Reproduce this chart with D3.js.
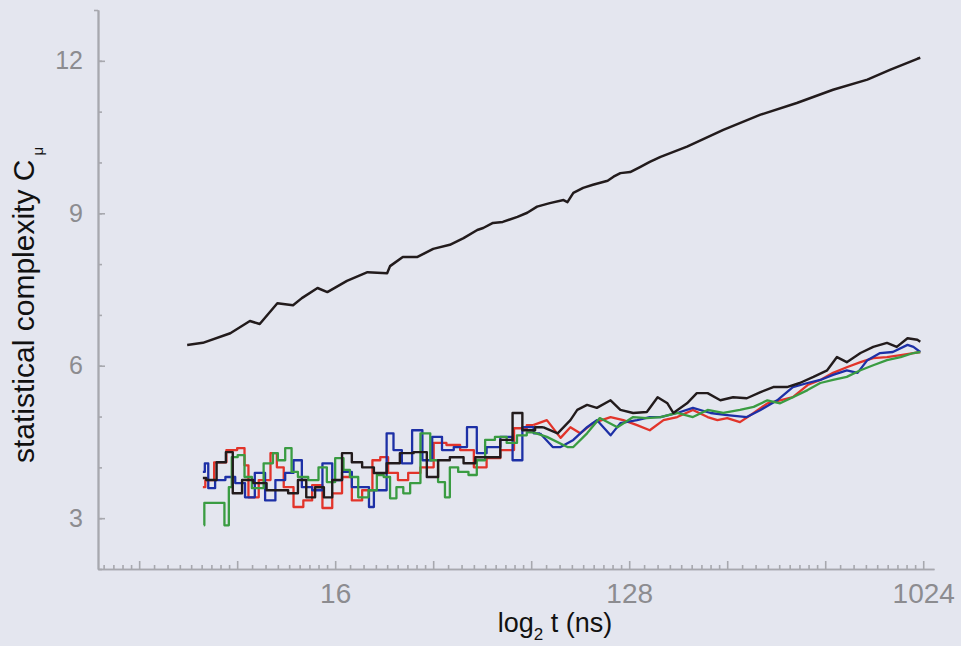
<!DOCTYPE html>
<html>
<head>
<meta charset="utf-8">
<script src="https://cdn.jsdelivr.net/npm/d3@7/dist/d3.min.js"></script>
<style>
body { margin: 0; background: #e4e6ef; }
svg { display: block; font-family: "Liberation Sans", Arial, sans-serif; }
</style>
</head>
<body>
<svg width="961" height="646"></svg>
<script>
// x values are log2 of t (ns), y values are C_mu

var topT = [2.49, 2.65, 2.93, 3.13, 3.23, 3.41, 3.57, 3.66, 3.82, 3.92, 4.12, 4.33, 4.53, 4.56, 4.69, 4.84, 5.00, 5.17, 5.31, 5.45, 5.51, 5.61, 5.71, 5.86, 5.96, 6.06, 6.19, 6.33, 6.37, 6.43, 6.53, 6.63, 6.78, 6.84, 6.91, 7.01, 7.11, 7.21, 7.32, 7.59, 7.96, 8.34, 8.71, 9.08, 9.43, 9.66, 9.94, 9.97];
var topC = [6.41, 6.45, 6.64, 6.88, 6.82, 7.23, 7.19, 7.33, 7.53, 7.45, 7.67, 7.84, 7.82, 7.96, 8.14, 8.14, 8.30, 8.38, 8.51, 8.67, 8.71, 8.81, 8.83, 8.93, 9.01, 9.13, 9.20, 9.26, 9.22, 9.40, 9.50, 9.56, 9.64, 9.72, 9.79, 9.81, 9.91, 10.01, 10.11, 10.31, 10.64, 10.94, 11.17, 11.43, 11.63, 11.82, 12.04, 12.06];

var redT = [2.65, 2.70, 2.83, 2.95, 3.05, 3.10, 3.13, 3.31, 3.37, 3.44, 3.51, 3.64, 3.71, 3.82, 3.92, 4.02, 4.12, 4.22, 4.33, 4.43, 4.49, 4.59, 4.69, 4.80, 4.94, 5.07, 5.20, 5.35, 5.48, 5.61, 5.76, 5.89, 6.02, 6.16, 6.30, 6.40, 6.50, 6.63, 6.81, 6.94, 7.08, 7.21, 7.35, 7.49, 7.65, 7.80, 7.90, 8.00, 8.13, 8.27, 8.41, 8.54, 8.67, 8.82, 8.95, 9.08, 9.22, 9.36, 9.49, 9.63, 9.77, 9.90, 9.97];
var redC = [3.61, 3.75, 4.10, 4.34, 4.38, 4.04, 3.41, 3.75, 4.28, 4.00, 3.61, 3.22, 3.35, 3.65, 3.20, 3.49, 3.81, 3.35, 3.55, 4.14, 4.20, 3.89, 3.75, 3.89, 4.00, 4.48, 4.44, 4.34, 4.00, 4.18, 4.34, 4.77, 4.83, 4.93, 4.58, 4.79, 4.67, 4.87, 4.99, 4.93, 4.83, 4.73, 4.93, 4.99, 5.13, 4.99, 4.93, 4.97, 4.89, 5.07, 5.26, 5.32, 5.38, 5.62, 5.72, 5.86, 5.97, 6.07, 6.15, 6.17, 6.21, 6.25, 6.27];

var blueT = [2.65, 2.69, 2.72, 2.83, 2.93, 3.03, 3.13, 3.23, 3.34, 3.44, 3.54, 3.61, 3.71, 3.82, 3.92, 4.02, 4.12, 4.22, 4.33, 4.36, 4.43, 4.49, 4.56, 4.63, 4.73, 4.84, 4.94, 5.04, 5.14, 5.28, 5.41, 5.48, 5.61, 5.76, 5.86, 5.96, 6.09, 6.22, 6.30, 6.43, 6.57, 6.67, 6.81, 6.91, 7.08, 7.21, 7.32, 7.49, 7.65, 7.83, 8.00, 8.20, 8.34, 8.51, 8.67, 8.82, 8.95, 9.08, 9.22, 9.33, 9.43, 9.56, 9.69, 9.84, 9.90, 9.97];
var blueC = [3.91, 4.08, 3.59, 3.75, 3.81, 3.69, 3.41, 3.89, 3.35, 3.75, 3.89, 4.14, 3.61, 3.55, 4.08, 3.75, 3.91, 3.61, 3.61, 3.22, 3.55, 3.55, 4.67, 4.34, 4.08, 4.73, 4.14, 4.60, 4.34, 4.40, 4.79, 4.28, 4.40, 4.60, 4.14, 4.79, 4.67, 4.40, 4.40, 4.54, 4.79, 4.93, 4.63, 4.87, 4.93, 4.99, 4.99, 5.07, 5.17, 5.07, 5.03, 4.99, 5.13, 5.32, 5.58, 5.66, 5.72, 5.82, 5.91, 5.86, 6.11, 6.25, 6.27, 6.41, 6.37, 6.27];

var greenT = [2.66, 2.67, 2.86, 2.88, 2.90, 2.93, 2.96, 3.05, 3.10, 3.20, 3.34, 3.39, 3.44, 3.54, 3.57, 3.67, 3.78, 3.88, 3.95, 4.05, 4.12, 4.18, 4.29, 4.39, 4.46, 4.53, 4.59, 4.66, 4.73, 4.80, 4.94, 5.00, 5.10, 5.14, 5.20, 5.31, 5.41, 5.48, 5.58, 5.68, 5.82, 5.89, 6.02, 6.16, 6.37, 6.43, 6.57, 6.70, 6.88, 7.04, 7.18, 7.32, 7.49, 7.65, 7.80, 7.96, 8.13, 8.27, 8.41, 8.54, 8.67, 8.82, 8.95, 9.08, 9.22, 9.36, 9.49, 9.63, 9.77, 9.90, 9.97];
var greenC = [2.86, 3.30, 3.30, 2.86, 2.86, 3.61, 4.20, 4.24, 3.81, 3.59, 4.08, 4.28, 4.14, 4.38, 3.91, 3.81, 3.75, 4.00, 3.71, 4.18, 3.95, 3.81, 3.41, 3.55, 3.85, 3.81, 3.39, 3.61, 3.49, 3.69, 4.67, 4.14, 3.71, 3.41, 4.00, 3.91, 3.85, 4.14, 4.54, 4.60, 4.48, 4.63, 4.69, 4.60, 4.40, 4.40, 4.67, 4.97, 4.79, 4.99, 4.97, 4.99, 5.07, 4.99, 5.13, 5.07, 5.13, 5.19, 5.32, 5.26, 5.38, 5.52, 5.66, 5.72, 5.78, 5.91, 6.01, 6.11, 6.17, 6.25, 6.27];

var blackT = [2.65, 2.72, 2.86, 2.91, 3.00, 3.10, 3.23, 3.37, 3.47, 3.57, 3.67, 3.74, 3.85, 3.92, 4.02, 4.12, 4.22, 4.33, 4.46, 4.59, 4.73, 4.87, 5.00, 5.10, 5.24, 5.38, 5.48, 5.61, 5.76, 5.86, 5.96, 6.12, 6.27, 6.40, 6.47, 6.57, 6.67, 6.81, 6.91, 7.04, 7.18, 7.29, 7.39, 7.45, 7.59, 7.69, 7.80, 7.93, 8.06, 8.20, 8.34, 8.47, 8.61, 8.74, 8.88, 9.02, 9.12, 9.22, 9.36, 9.49, 9.63, 9.73, 9.84, 9.94, 9.97];
var blackC = [3.79, 3.75, 4.10, 4.30, 3.49, 3.75, 3.69, 3.55, 3.55, 3.49, 3.75, 3.41, 3.61, 3.41, 3.75, 4.28, 4.10, 4.00, 3.89, 4.08, 4.28, 4.30, 3.81, 4.14, 4.20, 4.08, 4.20, 4.20, 4.54, 5.07, 4.73, 4.79, 4.67, 4.93, 5.13, 5.23, 5.17, 5.32, 5.13, 5.07, 5.09, 5.38, 5.26, 5.07, 5.26, 5.46, 5.46, 5.32, 5.38, 5.36, 5.48, 5.58, 5.58, 5.66, 5.78, 5.91, 6.17, 6.07, 6.25, 6.37, 6.45, 6.37, 6.54, 6.51, 6.47];

var xTickLabels = [16, 128, 1024];
var yTickLabels = [3, 6, 9, 12];

var svg = d3.select("svg");
var axisGray = "#a7a8ae", labelGray = "#8c8c90";

xScale = d3.scaleLinear().domain([1.58, 10.11]).range([98, 934]);
yScale = d3.scaleLinear().domain([2, 13]).range([569, 10]);

// minor x ticks: 8 linear steps inside each octave
var xMinor = [];
for (var k = 1; k <= 10; k++) {
    for (var i = 1; i <= 8; i++) {
        var v = k + Math.log2(1 + i / 9);
        if (v > 1.58 && v < 10.11) xMinor.push(v);
    }
}
var xMajor = d3.range(2, 11);
var xLabelled = xTickLabels.map(function (d) { return Math.log2(d) });

function styleAxis(g) {
    g.selectAll("path, line").attr("stroke", axisGray).attr("stroke-width", 1.6);
    g.selectAll("text").attr("fill", labelGray);
}

svg.append("g").attr("transform", "translate(0,569)")
    .call(d3.axisBottom(xScale).tickValues(xMinor).tickSize(-4).tickSizeOuter(0).tickFormat(""))
    .call(styleAxis);
svg.append("g").attr("transform", "translate(0,569)")
    .call(d3.axisBottom(xScale).tickValues(xMajor).tickSize(-8).tickSizeOuter(0).tickPadding(14)
        .tickFormat(function (d) { return xLabelled.indexOf(d) >= 0 ? Math.pow(2, d) : "" }))
    .call(styleAxis)
    .selectAll("text").attr("font-size", 28).attr("font-family", "Liberation Sans, Arial, sans-serif");

svg.append("g").attr("transform", "translate(98,0)")
    .call(d3.axisLeft(yScale).tickValues(d3.range(2, 13)).tickSize(-4).tickSizeOuter(0).tickFormat(""))
    .call(styleAxis);
svg.append("g").attr("transform", "translate(98,0)")
    .call(d3.axisLeft(yScale).tickValues([13]).tickSize(4).tickSizeOuter(0).tickFormat(""))
    .call(styleAxis);
svg.append("g").attr("transform", "translate(98,0)")
    .call(d3.axisLeft(yScale).tickValues(yTickLabels).tickSize(-7).tickSizeOuter(0).tickPadding(15))
    .call(styleAxis)
    .selectAll("text").attr("font-size", 25).attr("font-family", "Liberation Sans, Arial, sans-serif");

// curves: the early, coarse part of the noisy runs is stepped, the rest is a plain line
var stepEnd = 6.0;
var series = [
    { t: redT, c: redC, color: "#e2342a", w: 2.3, noisy: true },
    { t: blueT, c: blueC, color: "#1d30a6", w: 2.3, noisy: true },
    { t: greenT, c: greenC, color: "#3a9c42", w: 2.3, noisy: true },
    { t: blackT, c: blackC, color: "#221b1c", w: 2.4, noisy: true },
    { t: topT, c: topC, color: "#221b1c", w: 2.5, noisy: false }
];
var xy = function (l) {
    return l.x(function (d) { return xScale(d[0]) }).y(function (d) { return yScale(d[1]) });
};
var stepLine = xy(d3.line()).curve(d3.curveStep);
var plainLine = xy(d3.line());
series.forEach(function (s) {
    var pts = d3.zip(s.t, s.c);
    var parts = [[pts, plainLine]];
    if (s.noisy) {
        var cut = d3.bisectLeft(s.t, stepEnd);
        parts = [[pts.slice(0, cut + 1), stepLine], [pts.slice(cut), plainLine]];
    }
    parts.forEach(function (p) {
        svg.append("path")
            .attr("d", p[1](p[0]))
            .attr("fill", "none").attr("stroke", s.color).attr("stroke-width", s.w)
            .attr("stroke-linejoin", "round");
    });
});

// axis titles
var xt = svg.append("text").attr("x", 555).attr("y", 632).attr("text-anchor", "middle")
    .attr("font-size", 27).attr("fill", "#111");
xt.append("tspan").text("log");
xt.append("tspan").attr("font-size", 17).attr("dy", 8).text("2");
xt.append("tspan").attr("dy", -8).text(" t (ns)");

var yt = svg.append("text").attr("transform", "translate(34,463) rotate(-90)")
    .attr("font-size", 30).attr("fill", "#111");
yt.append("tspan").text("statistical complexity C");
yt.append("tspan").attr("font-size", 15).attr("dx", 4).attr("dy", 9).text("\u03bc");
</script>
</body>
</html>
